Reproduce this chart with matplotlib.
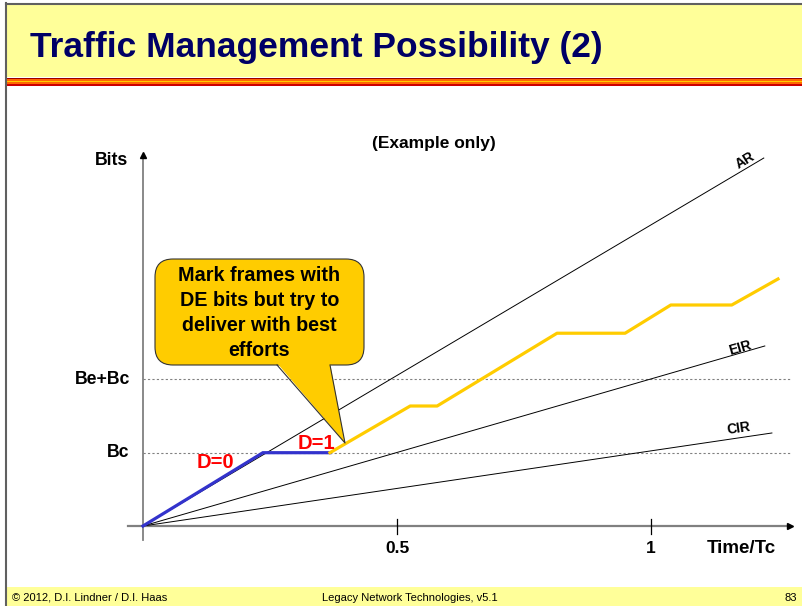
import matplotlib.pyplot as plt
from matplotlib.patches import FancyBboxPatch, Polygon, Rectangle

plt.rcParams['font.family'] = ['Liberation Sans', 'DejaVu Sans']

# Data (time in Tc units, bits in Bc units)
ar_t, ar_b = [0, 1.222], [0, 5.02]
eir_t, eir_b = [0, 1.224], [0, 2.456]
cir_t, cir_b = [0, 1.238], [0, 1.269]
blue_t = [0, 0.236, 0.368]
blue_b = [0, 1.0, 1.0]
yellow_t = [0.368, 0.526, 0.579, 0.815, 0.949, 1.039, 1.159, 1.25]
yellow_b = [1.0, 1.637, 1.637, 2.63, 2.63, 3.015, 3.015, 3.37]
y_ticks = [1, 2]
y_labels = ['Bc', 'Be+Bc']
x_ticks = [0.5, 1]
x_labels = ['0.5', '1']

W, H = 803, 606
fig = plt.figure(figsize=(W / 100, H / 100), dpi=100)
fig.patch.set_facecolor('white')

# data axes covering the whole figure; origin at pixel (143, 526)
ax = fig.add_axes([0, 0, 1, 1], zorder=1)
ax.set_xlim(-143 / 508, (W - 143) / 508)
ax.set_ylim(-(H - 526) / 73.3, 526 / 73.3)
ax.axis('off')
ax.patch.set_alpha(0)

# overlay axes in pixel coordinates for slide decoration and callout
px = fig.add_axes([0, 0, 1, 1], zorder=2)
px.set_xlim(0, W)
px.set_ylim(H, 0)
px.axis('off')
px.patch.set_alpha(0)

# header
px.add_patch(Rectangle((6, 3), W, 74, facecolor='#FFFF99', edgecolor='none'))
stripes = ['#990000', '#FF6600', '#FFCC00', '#FF6600', '#CC0000']
for i, c in enumerate(stripes):
    px.add_patch(Rectangle((6, 77.5 + i * 1.6), W, 1.7, facecolor=c, edgecolor='none'))
px.plot([6, W], [3.5, 3.5], color='#606060', lw=1.5)
px.plot([6, 6], [3, H], color='#606060', lw=1.5)
px.text(30, 57, 'Traffic Management Possibility (2)', fontsize=25.5, fontweight='bold',
        color='#000066', va='baseline', ha='left')

# footer
px.add_patch(Rectangle((7, 587), W, 20, facecolor='#FFFF99', edgecolor='none'))
px.text(12, 601, '\u00a9 2012, D.I. Lindner / D.I. Haas', fontsize=8, va='baseline')
px.text(322, 601, 'Legacy Network Technologies, v5.1', fontsize=8, va='baseline')
px.text(797, 601, '83', fontsize=8, va='baseline', ha='right')

# axes lines
ax.plot([-0.03, 1.27], [0, 0], color='#808080', lw=1.6)
ax.plot([0, 0], [-0.19, 5.03], color='#808080', lw=1.3)
ax.plot([1.274], [0], marker='>', color='black', markersize=5)
ax.plot([0], [5.06], marker='^', color='black', markersize=4)
for xt, xl in zip(x_ticks, x_labels):
    ax.plot([xt, xt], [0.095, -0.11], color='black', lw=0.9)
    ax.text(xt, -0.31, xl, ha='center', va='center', fontsize=12.5, fontweight='bold')
for yt, yl in zip(y_ticks, y_labels):
    ax.plot([0, 1.274], [yt, yt], color='#808080', lw=0.8, ls=(0, (2, 2)))
    ax.text(-0.026, yt, yl, ha='right', va='center', fontsize=12.7, fontweight='bold')
ax.text(-0.03, 4.99, 'Bits', ha='right', va='center', fontsize=12.7, fontweight='bold')
ax.text(1.178, -0.31, 'Time/Tc', ha='center', va='center', fontsize=13.5, fontweight='bold')
ax.text(0.573, 5.22, '(Example only)', ha='center', va='center', fontsize=12.5, fontweight='bold')

# rate lines
for t, b in [(ar_t, ar_b), (eir_t, eir_b), (cir_t, cir_b)]:
    ax.plot(t, b, color='black', lw=0.7)
ax.text(1.185, 4.99, 'AR', ha='center', va='center', fontsize=10, fontweight='bold', rotation=31)
ax.text(1.175, 2.43, 'EIR', ha='center', va='center', fontsize=10, fontweight='bold', rotation=16)
ax.text(1.173, 1.337, 'CIR', ha='center', va='center', fontsize=10, fontweight='bold', rotation=8)

# traffic
ax.plot(blue_t, blue_b, color='#3333CC', lw=2.3, solid_joinstyle='miter')
ax.plot(yellow_t, yellow_b, color='#FFCC00', lw=2.3)
ax.text(0.142, 0.86, 'D=0', ha='center', va='center', fontsize=14.5, fontweight='bold', color='#FF0000')
ax.text(0.341, 1.13, 'D=1', ha='center', va='center', fontsize=14.5, fontweight='bold', color='#FF0000')

# callout
px.add_patch(FancyBboxPatch((155, 259), 209, 106, boxstyle='round,pad=0,rounding_size=18',
                            facecolor='#FFCC00', edgecolor='#333333', lw=0.8))
px.add_patch(Polygon([(277, 363), (330, 363), (345, 443)], closed=True,
                     facecolor='#FFCC00', edgecolor='none'))
px.plot([277, 345, 330], [365, 443, 365], color='#333333', lw=0.8)
px.text(259.5, 313, 'Mark frames with\nDE bits but try to\ndeliver with best\nefforts',
        ha='center', va='center', fontsize=14.2, fontweight='bold', linespacing=1.38)

fig.savefig('out.png', dpi=100)
